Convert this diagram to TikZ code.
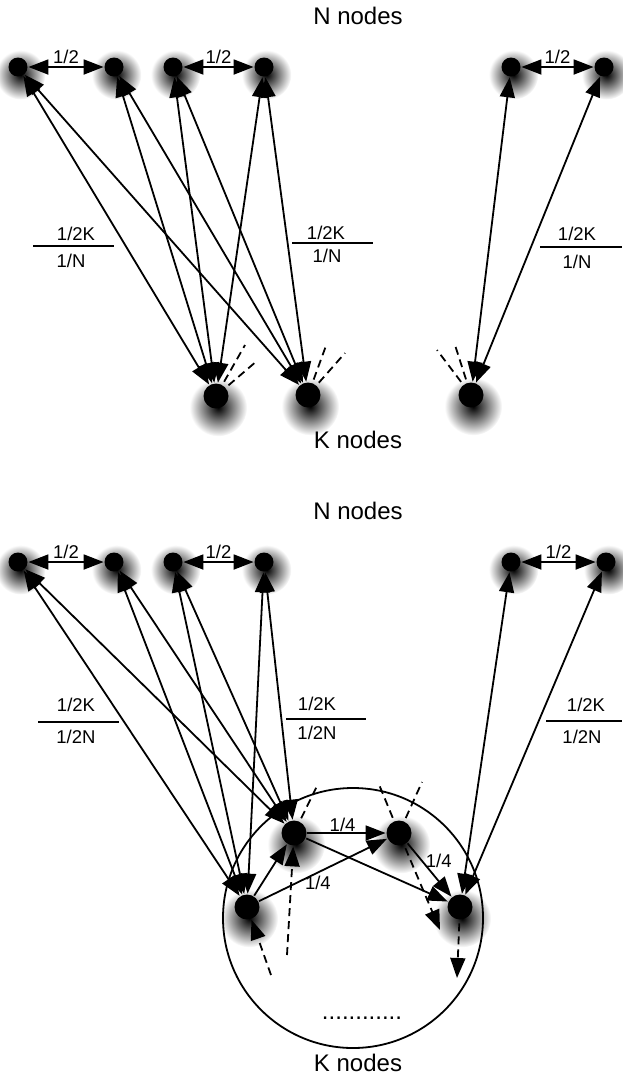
\documentclass[tikz,border=0pt]{standalone}
\usepackage{fontspec}
\setmainfont{Liberation Sans}
\usetikzlibrary{arrows.meta,shadows,fadings,positioning}

\tikzfading[name=glowfade, inner color=transparent!0, outer color=transparent!100]

\tikzset{
  nnode/.style={circle,fill=black,inner sep=0pt,minimum size=19pt,
    general shadow={fill=black,path fading=glowfade,shadow scale=2.6,
      shadow xshift=1pt,shadow yshift=-3pt}},
  knode/.style={circle,fill=black,inner sep=0pt,minimum size=25pt,
    general shadow={fill=black,path fading=glowfade,shadow scale=2.3,
      shadow xshift=1pt,shadow yshift=-5pt}},
  title/.style={font=\fontsize{24}{28}\selectfont},
  dashline/.style={dash pattern=on 8pt off 5pt,shorten <=3pt},
}

\begin{document}
\begin{tikzpicture}[x=1pt,y=-1pt,line width=1.8pt,font=\fontsize{18.5}{22}\selectfont,
  >={Triangle[length=20pt,width=15pt]}]
\useasboundingbox (0,0) rectangle (622,1077);

%%% first picture
\node[title] (ntop) at (358,16) {N nodes};
\node[nnode] (tn1) at (18,67) {};
\node[nnode] (tn2) at (114,67) {};
\node[nnode] (tn3) at (173,67) {};
\node[nnode] (tn4) at (264,67) {};
\node[nnode] (tn5) at (511,67) {};
\node[nnode] (tn6) at (604,67) {};

\node[knode] (tk1) at (216,396) {};
\node[knode] (tk2) at (308,395) {};
\node[knode] (tk3) at (471,395) {};
\node[title] (ktop) at (358,440) {K nodes};

\draw[<->] (tn1) -- node[above=-1pt] {1/2} (tn2);
\draw[<->] (tn3) -- node[above=-1pt] {1/2} (tn4);
\draw[<->] (tn5) -- node[above=-1pt] {1/2} (tn6);

\draw[<->] (tn1) -- (tk1);
\draw[<->] (tn1) -- (tk2);
\draw[<->] (tn2) -- (tk1);
\draw[<->] (tn2) -- (tk2);
\draw[<->] (tn3) -- (tk1);
\draw[<->] (tn3) -- (tk2);
\draw[<->] (tn4) -- (tk1);
\draw[<->] (tn4) -- (tk2);
\draw[<->] (tn5) -- (tk3);
\draw[<->] (tn6) -- (tk3);

% links going out to the other K nodes
\coordinate (td1) at (245,345); \coordinate (td2) at (258,360);
\coordinate (td3) at (327,343); \coordinate (td4) at (345,353);
\coordinate (td5) at (455,345); \coordinate (td6) at (437,350);
\draw[dashline] (tk1) -- (td1);
\draw[dashline] (tk1) -- (td2);
\draw[dashline] (tk2) -- (td3);
\draw[dashline] (tk2) -- (td4);
\draw[dashline] (tk3) -- (td5);
\draw[dashline] (tk3) -- (td6);

% weights
\node (tw1a) at (76,234) {1/2K};
\node (tw1b) at (71,261) {1/N};
\draw (33,246) -- (114,246);
\node (tw2a) at (326,233) {1/2K};
\node (tw2b) at (327,256) {1/N};
\draw (292,243) -- (373,243);
\node (tw3a) at (577,234) {1/2K};
\node (tw3b) at (577,262) {1/N};
\draw (540,247) -- (622,247);

%%% second picture
\node[title] (nbot) at (358,511) {N nodes};
\node[nnode] (bn1) at (18,562) {};
\node[nnode] (bn2) at (114,562) {};
\node[nnode] (bn3) at (173,562) {};
\node[nnode] (bn4) at (264,562) {};
\node[nnode] (bn5) at (511,562) {};
\node[nnode] (bn6) at (606,562) {};

\node[draw,circle,inner sep=0pt,minimum size=260pt] (kset) at (353,918) {}; % the K set
\node[knode] (ka) at (247,907) {};
\node[knode] (kb) at (294,833) {};
\node[knode] (kc) at (399,833) {};
\node[knode] (kd) at (460,907) {};
\node (kdots) at (362,1018) {\fontsize{24}{28}\selectfont ............};
\node[title] (kbot) at (358,1063) {K nodes};

\draw[<->] (bn1) -- node[above=-1pt] {1/2} (bn2);
\draw[<->] (bn3) -- node[above=-1pt] {1/2} (bn4);
\draw[<->] (bn5) -- node[above=-1pt] {1/2} (bn6);

\draw[<->] (bn1) -- (ka);
\draw[<->] (bn1) -- (kb);
\draw[<->] (bn2) -- (ka);
\draw[<->] (bn2) -- (kb);
\draw[<->] (bn3) -- (ka);
\draw[<->] (bn3) -- (kb);
\draw[<->] (bn4) -- (ka);
\draw[<->] (bn4) -- (kb);
\draw[<->] (bn5) -- (kd);
\draw[<->] (bn6) -- (kd);

\draw[->] (ka) -- (kb);
\draw[->] (ka) -- node[pos=0.46,below=-1pt] {1/4} (kc);
\draw[->] (kb) -- node[pos=0.45,above=-3pt] {1/4} (kc);
\draw[->] (kb) -- (kd);
\draw[->] (kc) -- node[pos=0.32,right=0pt] {1/4} (kd);

% links inside the K set
\coordinate (bd1) at (318,784);
\coordinate (bd2) at (378,782); \coordinate (bd3) at (422,782);
\coordinate (bd4) at (440,930); \coordinate (bd5) at (457,978);
\coordinate (bd6) at (271,975); \coordinate (bd7) at (287,955);
\draw[dashline] (kb) -- (bd1);
\draw[dashline] (kc) -- (bd2);
\draw[dashline] (kc) -- (bd3);
\draw[dashline,->] (kc) -- (bd4);
\draw[dashline,->] (kd) -- (bd5);
\draw[dash pattern=on 8pt off 5pt,->] (bd6) -- (ka);
\draw[dash pattern=on 8pt off 5pt,->] (bd7) -- (kb);

% weights
\node (bw1a) at (76,705) {1/2K};
\node (bw1b) at (76,737) {1/2N};
\draw (38,722) -- (119,722);
\node (bw2a) at (317,704) {1/2K};
\node (bw2b) at (317,733) {1/2N};
\draw (286,719) -- (366,719);
\node (bw3a) at (586,705) {1/2K};
\node (bw3b) at (582,737) {1/2N};
\draw (546,721) -- (622,721);

\end{tikzpicture}
\end{document}
